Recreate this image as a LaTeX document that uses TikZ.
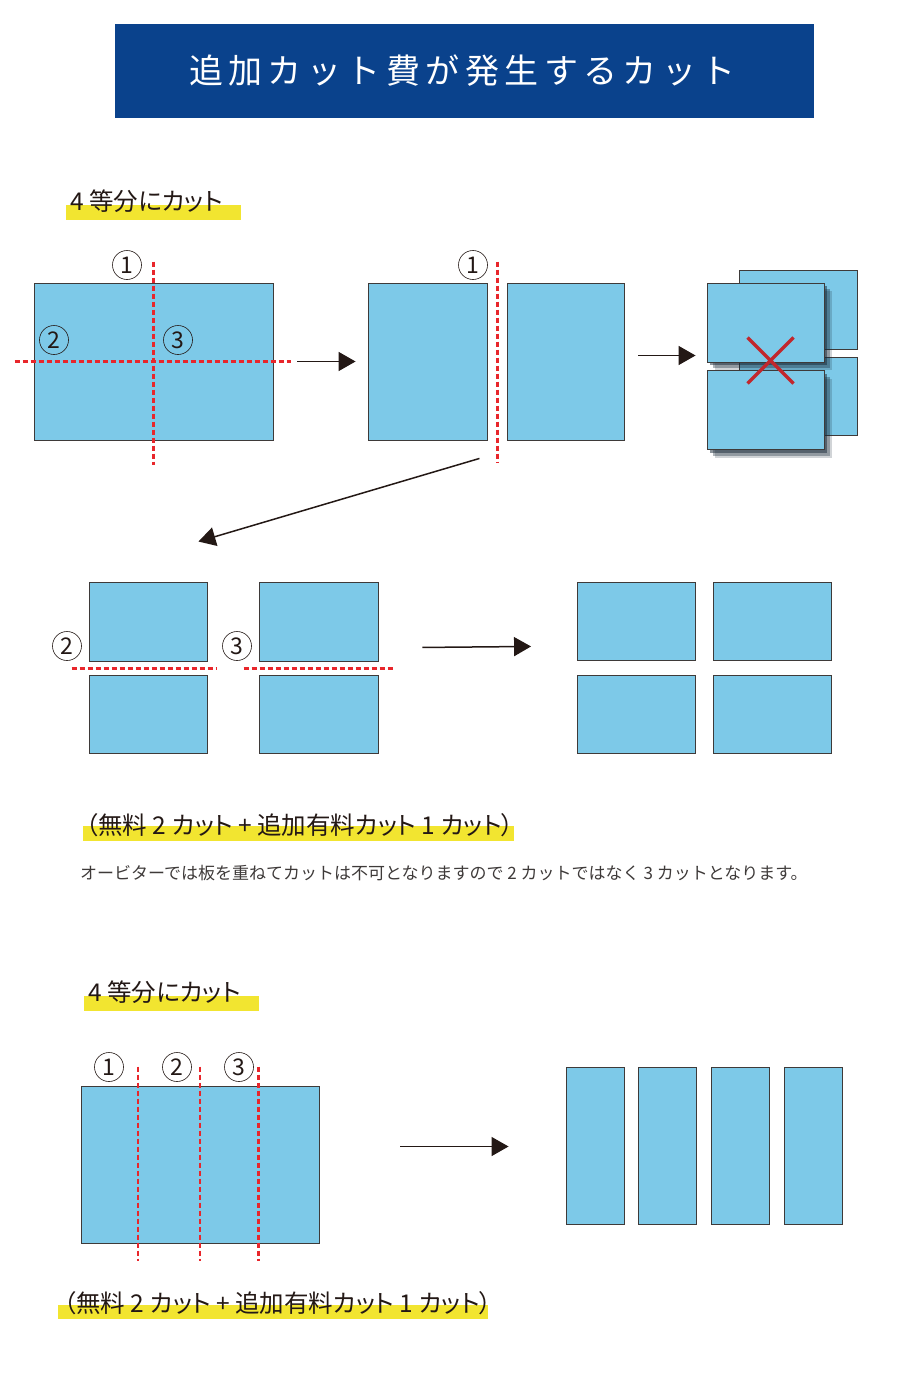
\documentclass[tikz,border=0pt]{standalone}
\usepackage{fontspec}
\setmainfont{Noto Sans CJK JP}[RawFeature=+palt]
\newfontfamily\plainjp{Noto Sans CJK JP}
\usetikzlibrary{positioning, calc, arrows.meta, shadows}

\definecolor{titleblue}{HTML}{0A428C}
\definecolor{sheetblue}{HTML}{7DC9E8}
\definecolor{edgegray}{HTML}{3E3A39}
\definecolor{cutred}{HTML}{E8262B}
\definecolor{crossred}{HTML}{C1272D}
\definecolor{markyellow}{HTML}{F2E530}
\definecolor{ink}{HTML}{231815}
\definecolor{shade}{HTML}{1A2A38}

\newcommand{\bandfont}{\plainjp\fontsize{34}{34}\selectfont\addfontfeature{LetterSpace=16}}

\begin{document}
\begin{tikzpicture}[x=1pt, y=-1pt,
  sheet/.style = {draw=edgegray, fill=sheetblue, line width=0.9pt, inner sep=0pt},
  shadowed/.style = {drop shadow={shadow xshift=3pt, shadow yshift=-3pt, opacity=.5, fill=shade},
                     drop shadow={shadow xshift=6pt, shadow yshift=-6pt, opacity=.35, fill=shade},
                     drop shadow={shadow xshift=8pt, shadow yshift=-8pt, opacity=.2, fill=shade}},
  cut/.style = {draw=cutred, line width=2.2pt, dash pattern=on 5pt off 3pt},
  num/.style = {draw=ink, circle, minimum size=29pt, inner sep=0pt, line width=0.6pt, text=ink, font=\fontsize{23}{23}\selectfont},
  flow/.style = {draw=ink, line width=1.5pt, -{Triangle[length=17pt, width=19pt]}},
  marker/.style = {fill=markyellow, inner sep=0pt, anchor=north west},
  heading/.style = {text=ink, inner sep=0pt, anchor=base west, font=\fontsize{24.5}{24.5}\selectfont},
  remark/.style = {text=edgegray, inner sep=0pt, anchor=base west, font=\plainjp\fontsize{17}{17}\selectfont}
]

\useasboundingbox (0,0) rectangle (900,1378);

% title band
\node[fill=titleblue, minimum width=699pt, minimum height=94pt, inner sep=0pt] (band) at (464.5,71) {};
\node[text=white, font=\bandfont, xshift=-2pt] (title) at (band.center) {追加カット費が発生するカット};

%--- first case: heading ---
\node[marker, minimum width=175pt, minimum height=15pt] (mark1) at (66,205) {};
\node[heading] (head1) at (70,210) {4 等分にカット};

% whole sheet with cut lines
\node[sheet, minimum width=239pt, minimum height=157pt] (whole) at (153.5,361.5) {};
\draw[cut] ([yshift=21pt]whole.north) -- ([yshift=-25pt]whole.south);
\draw[cut] ([xshift=-19pt]whole.west) -- ([xshift=18pt]whole.east);
\node[num] (c1) at (127,265) {1};
\node[num] (c2) at (54,340) {2};
\node[num] (c3) at (178,340) {3};

% halves after cut 1
\node[sheet, minimum width=119pt, minimum height=157pt] (halfL) at (427.5,361.5) {};
\node[sheet, minimum width=117pt, minimum height=157pt, right=20pt of halfL] (halfR) {};
\draw[flow] ([xshift=24pt]whole.east) -- ([xshift=-12pt]halfL.west);
\draw[cut] ($(halfL.north east)!0.5!(halfR.north west)+(0,-21)$) -- ($(halfL.south east)!0.5!(halfR.south west)+(0,23)$);
\node[num] (c1b) at (473,265) {1};

% stacked halves (not allowed)
\node[sheet, minimum width=118pt, minimum height=79pt] (backT) at (798,309.5) {};
\node[sheet, minimum width=118pt, minimum height=78pt, below=8pt of backT] (backB) {};
\node[sheet, shadowed, minimum width=117pt, minimum height=79pt] (frontT) at (765.5,322.5) {};
\node[sheet, shadowed, minimum width=117pt, minimum height=79pt, below=8pt of frontT] (frontB) {};
\draw[flow] ($(halfR.east)+(13,-6)$) -- ($(frontT.west |- halfR.east)+(-11,-6)$);
\coordinate (nogo) at (770.5,360.5);
\draw[crossred, line width=3.5pt] ($(nogo)+(-23,-23)$) -- ($(nogo)+(23,23)$)
                                  ($(nogo)+(23,-23)$) -- ($(nogo)+(-23,23)$);

%--- cuts 2 and 3 one by one ---
\node[sheet, minimum width=118pt, minimum height=79pt] (p2T) at (148,621.5) {};
\node[sheet, minimum width=118pt, minimum height=78pt, below=14pt of p2T] (p2B) {};
\node[sheet, minimum width=119pt, minimum height=79pt] (p3T) at (318.5,621.5) {};
\node[sheet, minimum width=119pt, minimum height=78pt, below=14pt of p3T] (p3B) {};
\draw[cut] ($(p2T.south west)+(-17,7)$) -- ($(p2T.south east)+(9,7)$);
\draw[cut] ($(p3T.south west)+(-15,7)$) -- ($(p3T.south east)+(15,7)$);
\node[num] (c2b) at (67,646) {2};
\node[num] (c3b) at (237,646) {3};
\draw[flow] ($(halfL.south east)+(-8,18)$) -- ($(p2T.north east)+(-9,-40)$);

% result: four pieces
\node[sheet, minimum width=118pt, minimum height=78pt] (q1) at (636.5,621) {};
\node[sheet, minimum width=118pt, minimum height=78pt, right=17pt of q1] (q2) {};
\node[sheet, minimum width=118pt, minimum height=78pt, below=15pt of q1] (q3) {};
\node[sheet, minimum width=118pt, minimum height=78pt, right=17pt of q3] (q4) {};
\draw[flow] ($(p3T.south east)+(44,-14)$) -- ($(q1.south west)+(-46,-14)$);

% fee and remark
\node[marker, minimum width=431pt, minimum height=15pt] (mark2) at (83,826) {};
\node[heading] (fee1) at (86,834) {（無料 2 カット + 追加有料カット 1 カット）};
\node[remark] (note) at (80,879) {オービターでは板を重ねてカットは不可となりますので 2 カットではなく 3 カットとなります。};

%--- second case: heading ---
\node[marker, minimum width=175pt, minimum height=15pt] (mark3) at (84,996) {};
\node[heading] (head2) at (88,1001) {4 等分にカット};

% slab with three cuts
\node[sheet, minimum width=238pt, minimum height=157pt] (slab) at (200,1164.5) {};
\foreach \f in {0.24,0.5,0.745}
  \draw[cut] ($(slab.north west)!\f!(slab.north east)+(0,-19)$) -- ($(slab.south west)!\f!(slab.south east)+(0,18)$);
\node[num] (d1) at (109,1067) {1};
\node[num] (d2) at (177,1067) {2};
\node[num] (d3) at (239,1067) {3};

% strips
\node[sheet, minimum width=58pt, minimum height=157pt] (strip1) at (595,1145.5) {};
\foreach \i/\j in {1/2,2/3,3/4}
  \node[sheet, minimum width=58pt, minimum height=157pt, right=14pt of strip\i] (strip\j) {};
\draw[flow] ($(slab.east)+(81,-18)$) -- ($(strip1.west |- slab.east)+(-57,-18)$);

% fee
\node[marker, minimum width=430pt, minimum height=14pt] (mark4) at (58,1305) {};
\node[heading] (fee2) at (64,1312) {（無料 2 カット + 追加有料カット 1 カット）};

\end{tikzpicture}
\end{document}
